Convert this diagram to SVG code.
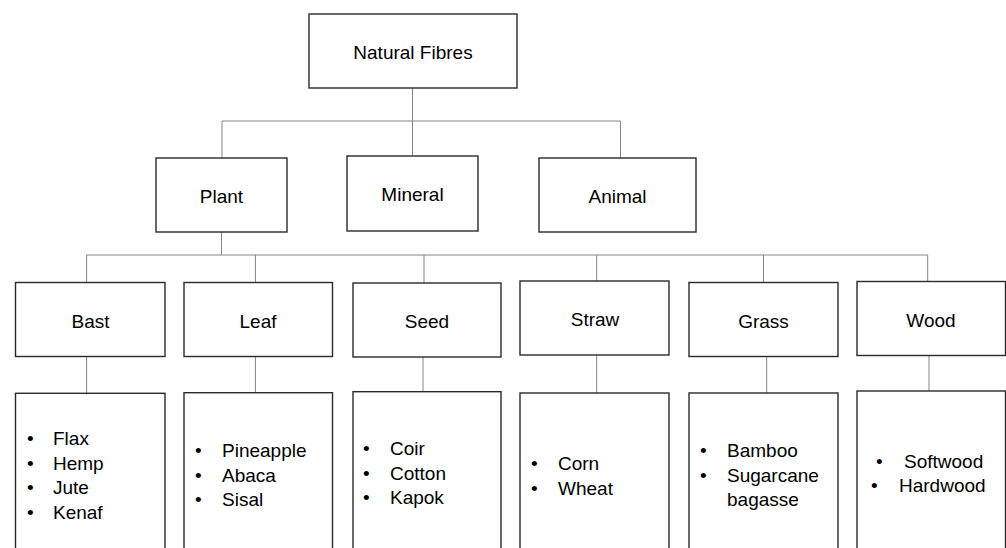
<svg xmlns="http://www.w3.org/2000/svg" width="1006" height="548" viewBox="0 0 1006 548">
<style>
.box{fill:#fff;stroke:#2a2a2a;stroke-width:1.4}
.lbl{font-family:"Liberation Sans",Arial,sans-serif;font-size:19px;fill:#000;text-anchor:middle}
.itm{font-family:"Liberation Sans",Arial,sans-serif;font-size:19px;fill:#000}
.con{fill:none;stroke:#858585;stroke-width:1}
</style>
<rect width="1006" height="548" fill="#fff"/>
<g id="connectors">
<path class="con" d="M412.5 88V121M222 121H620.5M222 121V158M412.5 121V156M620.5 121V158"/>
<path class="con" d="M221.5 232V255M86.6 255H927.7M86.6 255V282.5M255.4 255V282.5M424 255V283M596.7 255V281M763.5 255V282.5M927.7 255V281.5"/>
<path class="con" d="M86.6 356.5V393.3M255.4 356.5V392.7M423 357V391.7M596.7 355V393M766.7 356.5V393M929 355.5V391"/>
</g>
<g id="natural-fibres"><rect class="box" x="309" y="14" width="208" height="74"/><text class="lbl" x="413" y="59">Natural Fibres</text></g>
<g id="plant"><rect class="box" x="156" y="158" width="131" height="74"/><text class="lbl" x="221.5" y="203">Plant</text></g>
<g id="mineral"><rect class="box" x="347" y="156" width="131" height="75"/><text class="lbl" x="412.5" y="201">Mineral</text></g>
<g id="animal"><rect class="box" x="539" y="158" width="157" height="74"/><text class="lbl" x="617.5" y="203">Animal</text></g>
<g id="bast"><rect class="box" x="15.5" y="282.5" width="149.5" height="74"/><text class="lbl" x="90.5" y="327.5">Bast</text></g>
<g id="leaf"><rect class="box" x="184" y="282.5" width="148.5" height="74"/><text class="lbl" x="258" y="327.5">Leaf</text></g>
<g id="seed"><rect class="box" x="353" y="283" width="148" height="74"/><text class="lbl" x="427" y="328">Seed</text></g>
<g id="straw"><rect class="box" x="520" y="281" width="149" height="74"/><text class="lbl" x="595" y="325.5">Straw</text></g>
<g id="grass"><rect class="box" x="689" y="282.5" width="149" height="74"/><text class="lbl" x="763.5" y="327.5">Grass</text></g>
<g id="wood"><rect class="box" x="857" y="281.5" width="148.5" height="74"/><text class="lbl" x="931" y="326.5">Wood</text></g>
<g id="bast-list"><rect class="box" x="15.5" y="393.3" width="149.5" height="170"/>
<text class="itm" x="27" y="445">•</text><text class="itm" x="53" y="445">Flax</text>
<text class="itm" x="27" y="469.5">•</text><text class="itm" x="53" y="469.5">Hemp</text>
<text class="itm" x="27" y="494">•</text><text class="itm" x="53" y="494">Jute</text>
<text class="itm" x="27" y="518.5">•</text><text class="itm" x="53" y="518.5">Kenaf</text></g>
<g id="leaf-list"><rect class="box" x="184" y="392.7" width="148.5" height="170"/>
<text class="itm" x="195" y="457">•</text><text class="itm" x="222" y="457">Pineapple</text>
<text class="itm" x="195" y="481.5">•</text><text class="itm" x="222" y="481.5">Abaca</text>
<text class="itm" x="195" y="506">•</text><text class="itm" x="222" y="506">Sisal</text></g>
<g id="seed-list"><rect class="box" x="353" y="391.7" width="148" height="170"/>
<text class="itm" x="363" y="455">•</text><text class="itm" x="390" y="455">Coir</text>
<text class="itm" x="363" y="479.5">•</text><text class="itm" x="390" y="479.5">Cotton</text>
<text class="itm" x="363" y="504">•</text><text class="itm" x="390" y="504">Kapok</text></g>
<g id="straw-list"><rect class="box" x="520" y="393" width="149" height="170"/>
<text class="itm" x="531" y="470">•</text><text class="itm" x="558" y="470">Corn</text>
<text class="itm" x="531" y="494.5">•</text><text class="itm" x="558" y="494.5">Wheat</text></g>
<g id="grass-list"><rect class="box" x="689" y="393" width="149" height="170"/>
<text class="itm" x="700" y="457">•</text><text class="itm" x="727" y="457">Bamboo</text>
<text class="itm" x="700" y="481.5">•</text><text class="itm" x="727" y="481.5">Sugarcane</text>
<text class="itm" x="727" y="506">bagasse</text></g>
<g id="wood-list"><rect class="box" x="857" y="391" width="148.5" height="170"/>
<text class="itm" x="876" y="467.5">•</text><text class="itm" x="904" y="467.5">Softwood</text>
<text class="itm" x="871" y="492">•</text><text class="itm" x="899" y="492">Hardwood</text></g>
</svg>
